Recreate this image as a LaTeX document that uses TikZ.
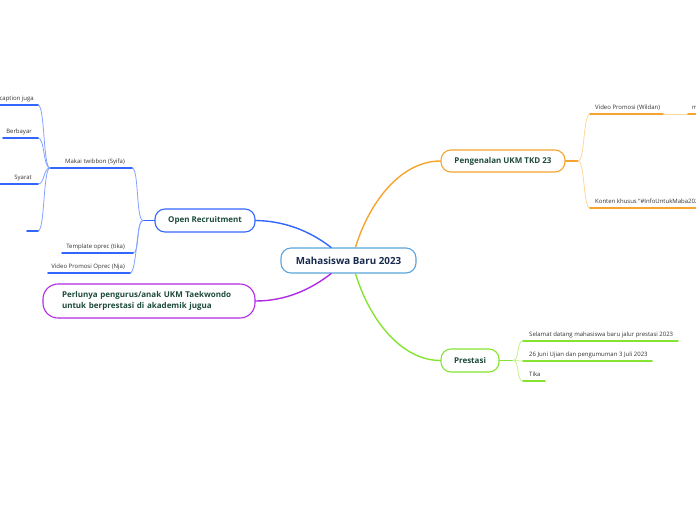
\documentclass[tikz,border=0pt]{standalone}
\usepackage{fontspec}
\setmainfont{Open Sans}
\definecolor{centerblue}{HTML}{5BA4DC}
\definecolor{centertext}{HTML}{1A2B4F}
\definecolor{topictext}{HTML}{1E4A3B}
\definecolor{leaftext}{HTML}{333333}
\definecolor{bmain}{HTML}{3366FF}
\definecolor{blight}{HTML}{85A2FF}
\definecolor{omain}{HTML}{F7A42E}
\definecolor{olight}{HTML}{FDD69A}
\definecolor{gmain}{HTML}{84E431}
\definecolor{glight}{HTML}{C4F28E}
\definecolor{pmain}{HTML}{B02AE6}
\begin{document}
\begin{tikzpicture}[x=1pt, y=-1pt, line join=round, line cap=round,
  font=\fontsize{6}{7}\selectfont,
  topic/.style={draw, fill=white, rounded corners=10pt, line width=1.1pt, inner sep=0pt,
    text=topictext, font=\fontsize{8}{11}\selectfont\bfseries},
  leaf/.style={inner sep=0pt, text=leaftext},
  bline/.style={draw=bmain, line width=1.8pt},
  bconn/.style={draw=blight, line width=0.8pt},
  oline/.style={draw=omain, line width=1.8pt},
  oconn/.style={draw=olight, line width=0.8pt},
  gline/.style={draw=gmain, line width=1.8pt},
  gconn/.style={draw=glight, line width=0.8pt}]
\clip (0,0) rectangle (696,520);
% topics
\node[topic, draw=centerblue, text=centertext, minimum width=135, minimum height=25,
  font=\fontsize{9.8}{11}\selectfont\bfseries] (mhs) at (348.5,260.5) {Mahasiswa Baru 2023};
\node[topic, draw=omain, minimum width=124, minimum height=22] (pkl) at (503,161) {Pengenalan UKM TKD 23};
\node[topic, draw=bmain, minimum width=100, minimum height=23] (orc) at (205,220.5) {Open Recruitment};
\node[topic, draw=pmain, minimum width=212, minimum height=34, rounded corners=15pt,
  text width=174, align=left] (plu) at (149,301) {Perlunya pengurus/anak UKM Taekwondo\\untuk berprestasi di akademik jugua};
\node[topic, draw=gmain, minimum width=58, minimum height=23] (prs) at (470,360.5) {Prestasi};
\draw[bmain, line width=1.4pt] (mhs.143) .. controls (315,235) and (290,221) .. (orc.east);
\draw[omain, line width=1.4pt] (mhs.62) .. controls (370,200) and (402,161) .. (pkl.west);
\draw[gmain, line width=1.4pt] (mhs.-62) .. controls (370,321) and (402,360.5) .. (prs.west);
\draw[pmain, line width=1.4pt] (mhs.217) .. controls (310,290) and (285,301) .. (plu.east);
% Open Recruitment
\coordinate (orcJ) at (143,220.5);
\coordinate (twbL) at (50,168);
\coordinate (twbR) at (132,168);
\coordinate (tplL) at (62,253);
\coordinate (tplR) at (133,253);
\coordinate (vpoL) at (48,273);
\coordinate (vpoR) at (130,273);
\draw[bmain, line width=1.4pt] (orc.west) -- (orcJ);
\draw[bconn] (orcJ) .. controls +(-7,0) and +(7,0) .. (twbR);
\draw[bconn] (orcJ) .. controls +(-7,0) and +(7,0) .. (tplR);
\draw[bconn] (orcJ) .. controls +(-7,0) and +(7,0) .. (vpoR);
\draw[bline] (twbL) -- (twbR) (tplL) -- (tplR) (vpoL) -- (vpoR);
\node[leaf, anchor=base east] (twb) at (125,163) {Makai twibbon (Syifa)};
\node[leaf, anchor=base east] (tpl) at (125,248) {Template oprec (tika)};
\node[leaf, anchor=base east] (vpo) at (125,268) {Video Promosi Oprec (Nja)};
% Makai twibbon
\coordinate (capL) at (-5,105);
\coordinate (capR) at (38,105);
\coordinate (berL) at (3,138);
\coordinate (berR) at (38,138);
\coordinate (syaL) at (-5,184);
\coordinate (syaR) at (38,184);
\coordinate (empL) at (27,231);
\coordinate (empR) at (38,231);
\draw[bconn] (twbL) .. controls +(-7,0) and +(7,0) .. (capR);
\draw[bconn] (twbL) .. controls +(-7,0) and +(7,0) .. (berR);
\draw[bconn] (twbL) .. controls +(-7,0) and +(7,0) .. (syaR);
\draw[bconn] (twbL) .. controls +(-7,0) and +(7,0) .. (empR);
\draw[bline] (capL) -- (capR) (berL) -- (berR) (syaL) -- (syaR) (empL) -- (empR);
\node[leaf, anchor=base east] (cap) at (34,100) {caption juga};
\node[leaf, anchor=base east] (ber) at (32,133) {Berbayar};
\node[leaf, anchor=base east] (sya) at (32,179) {Syarat};
% Pengenalan UKM TKD 23
\coordinate (pklJ) at (578,161);
\coordinate (vpwL) at (590,114);
\coordinate (vpwR) at (663,114);
\coordinate (mL) at (688,114);
\coordinate (mR) at (702,114);
\coordinate (knkL) at (590,208);
\coordinate (knkR) at (702,208);
\draw[omain, line width=1.4pt] (pkl.east) -- (pklJ);
\draw[oconn] (pklJ) .. controls +(7,0) and +(-7,0) .. (vpwL);
\draw[oconn] (pklJ) .. controls +(7,0) and +(-7,0) .. (knkL);
\draw[oconn] (vpwR) -- (mL);
\draw[oline] (vpwL) -- (vpwR) (mL) -- (mR) (knkL) -- (knkR);
\node[leaf, anchor=base west] (vpw) at (595,109) {Video Promosi (Wildan)};
\node[leaf, anchor=base west] (m) at (692,109) {m};
\node[leaf, anchor=base west] (knk) at (595,203) {Konten khusus “\#InfoUntukMaba2023”};
% Prestasi
\coordinate (prsJ) at (513,360.5);
\coordinate (sdmL) at (523,341);
\coordinate (sdmR) at (678,341);
\coordinate (ujnL) at (523,361);
\coordinate (ujnR) at (652,361);
\coordinate (tikL) at (523,381);
\coordinate (tikR) at (545,381);
\draw[gmain, line width=1.4pt] (prs.east) -- (prsJ);
\draw[gconn] (prsJ) .. controls +(7,0) and +(-7,0) .. (sdmL);
\draw[gconn] (prsJ) .. controls +(7,0) and +(-7,0) .. (ujnL);
\draw[gconn] (prsJ) .. controls +(7,0) and +(-7,0) .. (tikL);
\draw[gline] (sdmL) -- (sdmR) (ujnL) -- (ujnR) (tikL) -- (tikR);
\node[leaf, anchor=base west] (sdm) at (529,336) {Selamat datang mahasiswa baru jalur prestasi 2023};
\node[leaf, anchor=base west] (ujn) at (529,356) {26 Juni Ujian dan pengumuman 3 Juli 2023};
\node[leaf, anchor=base west] (tik) at (529,376) {Tika};
\end{tikzpicture}
\end{document}
